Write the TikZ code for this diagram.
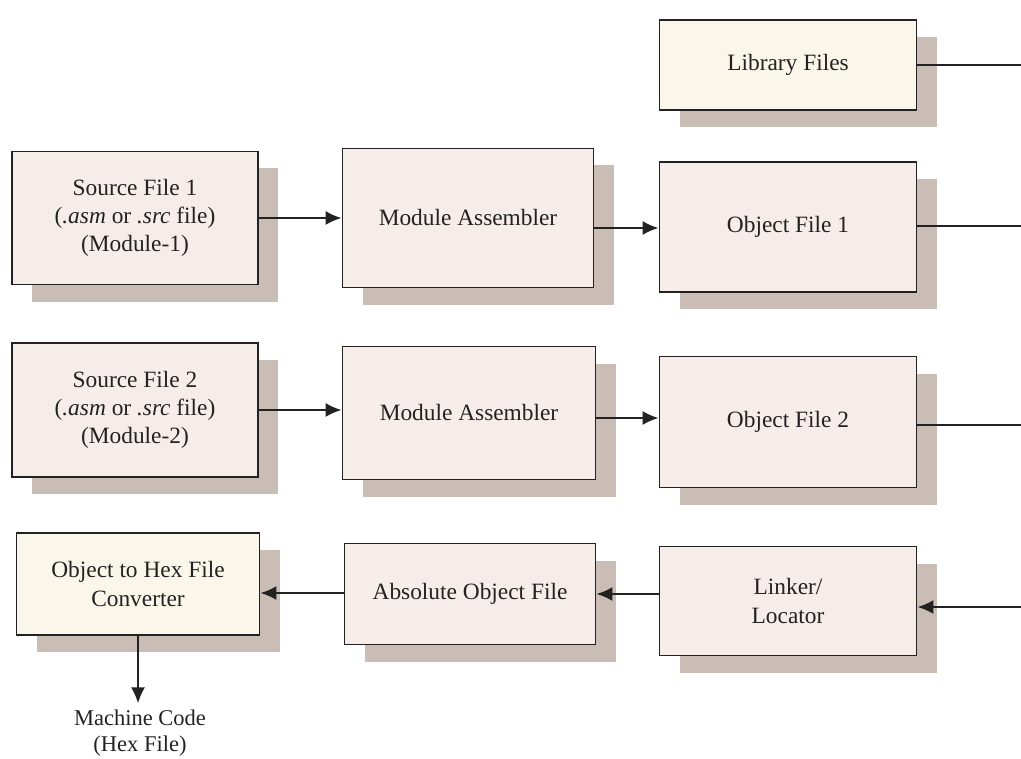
\documentclass[tikz,border=0pt]{standalone}
\usepackage{fontspec}
\setmainfont{Liberation Serif}
\usetikzlibrary{shadows,arrows.meta}

\definecolor{boxpink}{HTML}{F6ECE9}
\definecolor{boxcream}{HTML}{FBF6EA}
\definecolor{shadowgray}{HTML}{C9BDB6}
\definecolor{inkgray}{HTML}{222222}

\tikzset{
  block/.style={draw=inkgray, line width=1pt, fill=boxpink, align=center,
    text=inkgray, font=\fontsize{13.3}{16}\selectfont, inner sep=0pt,
    drop shadow={shadow xshift=0.4cm, shadow yshift=-0.34cm,
      fill=shadowgray, opacity=1}},
  creamblock/.style={block, fill=boxcream},
  flow/.style={draw=inkgray, line width=1.2pt, -{Latex[length=3.2mm,width=2.8mm]}},
  wire/.style={draw=inkgray, line width=1.2pt}
}

\begin{document}
\begin{tikzpicture}
  \useasboundingbox (0,0) rectangle (20.42,-15.16);

  % top row
  \node[creamblock, minimum width=5.14cm, minimum height=1.8cm] (lib) at (15.76,-1.3) {Library Files};

  % module 1
  \node[block, minimum width=4.92cm, minimum height=2.66cm] (src1) at (2.7,-4.36)
    {Source File 1\\(\textit{.asm} or \textit{.src} file)\\(Module-1)};
  \node[block, minimum width=5.02cm, minimum height=2.78cm] (asm1) at (9.36,-4.36) {Module Assembler};
  \node[block, minimum width=5.14cm, minimum height=2.6cm] (obj1) at (15.76,-4.54) {Object File 1};

  % module 2
  \node[block, minimum width=4.92cm, minimum height=2.68cm] (src2) at (2.7,-8.2)
    {Source File 2\\(\textit{.asm} or \textit{.src} file)\\(Module-2)};
  \node[block, minimum width=5.06cm, minimum height=2.66cm] (asm2) at (9.38,-8.26) {Module Assembler};
  \node[block, minimum width=5.14cm, minimum height=2.62cm] (obj2) at (15.76,-8.44) {Object File 2};

  % output row
  \node[creamblock, minimum width=4.86cm, minimum height=2.04cm] (hex) at (2.76,-11.68)
    {Object to Hex File\\Converter};
  \node[block, minimum width=5.02cm, minimum height=2.02cm] (abs) at (9.4,-11.88) {Absolute Object File};
  \node[block, minimum width=5.14cm, minimum height=2.18cm] (link) at (15.76,-12.02) {Linker/\\Locator};
  \node[text=inkgray, align=center, font=\fontsize{12.8}{15}\selectfont] (mc) at (2.8,-14.66)
    {Machine Code\\(Hex File)};

  % free ends at the right margin
  \coordinate (libend) at (20.42,-1.3);
  \coordinate (obj1end) at (20.42,-4.52);
  \coordinate (obj2end) at (20.42,-8.5);
  \coordinate (linkin) at (20.42,-12.14);

  \draw[flow] (src1.east) -- (src1.east -| asm1.west);
  \draw[flow] ([yshift=-0.2cm]asm1.east) -- ([yshift=-0.2cm]asm1.east -| obj1.west);
  \draw[flow] (src2.east) -- (src2.east -| asm2.west);
  \draw[flow] ([yshift=-0.1cm]asm2.east) -- ([yshift=-0.1cm]asm2.east -| obj2.west);

  \draw[wire] (lib.east) -- (libend);
  \draw[wire] (obj1.east |- obj1end) -- (obj1end);
  \draw[wire] (obj2.east |- obj2end) -- (obj2end);

  \draw[flow] (linkin) -- (linkin -| link.east);
  \draw[flow] (link.west |- abs.east) -- (abs.east);
  \draw[flow] (abs.west |- 0,-11.86) -- (hex.east |- 0,-11.86);
  \draw[flow] (hex.south) -- (hex.south |- mc.north);
\end{tikzpicture}
\end{document}
